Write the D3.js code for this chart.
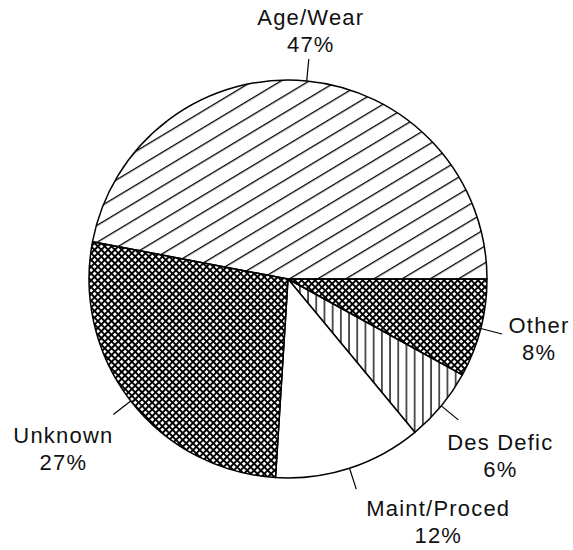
<!DOCTYPE html>
<html>
<head>
<meta charset="utf-8">
<script src="https://cdn.jsdelivr.net/npm/d3@7"></script>
<style>
  body { margin: 0; background: #fff; }
  text { font-family: "Liberation Sans", Arial, sans-serif; font-size: 22px; fill: #111; letter-spacing: 1.2px; }
</style>
</head>
<body>
<svg id="pie_svg" width="573" height="550"></svg>
<script>
// slices, clockwise starting from 3 o'clock
var causes = ["Other", "Des Defic", "Maint/Proced", "Unknown", "Age/Wear"];
var percents = [8, 6, 12, 27, 47];

// hatch used for each cause
var hatch = {"Other": "url(#cross)", "Des Defic": "url(#vert)", "Maint/Proced": "#fff",
             "Unknown": "url(#cross)", "Age/Wear": "url(#diag)"};
// label block position relative to the end of its leader line [dx, first baseline dy]
var labelShift = {"Other": [37, -1], "Des Defic": [42, 30], "Maint/Proced": [82, 27],
                  "Unknown": [-50, 29], "Age/Wear": [2, -34]};

const cx = 288, cy = 279, radius = 199, leaderOut = 221, lineGap = 27;

const svg = d3.select("#pie_svg");
const defs = svg.append("defs");

// wide diagonal lines
defs.append("pattern")
  .attr("id", "diag")
  .attr("patternUnits", "userSpaceOnUse")
  .attr("width", 40).attr("height", 14.5)
  .attr("patternTransform", "rotate(-31)")
  .append("rect")
  .attr("x", 0).attr("y", 0).attr("width", 40).attr("height", 1.3)
  .attr("fill", "#000");

// vertical lines
defs.append("pattern")
  .attr("id", "vert")
  .attr("patternUnits", "userSpaceOnUse")
  .attr("width", 8.2).attr("height", 20)
  .append("rect")
  .attr("x", 3).attr("y", 0).attr("width", 1.3).attr("height", 20)
  .attr("fill", "#000");

// diamond cross hatch
var cs = 4.8, cw = 1.9;
var cross = defs.append("pattern")
  .attr("id", "cross")
  .attr("patternUnits", "userSpaceOnUse")
  .attr("width", cs).attr("height", cs)
  .attr("patternTransform", "rotate(45)");
cross.append("rect").attr("width", cs).attr("height", cs).attr("fill", "#fff");
cross.append("rect").attr("x", 0).attr("y", 0).attr("width", cs).attr("height", cw).attr("fill", "#000");
cross.append("rect").attr("x", 0).attr("y", 0).attr("width", cw).attr("height", cs).attr("fill", "#000");

const g = svg.append("g").attr("transform", `translate(${cx},${cy})`);

const data = causes.map((c, i) => ({cause: c, value: percents[i]}));

const pie = d3.pie()
  .sort(null)
  .startAngle(Math.PI / 2)
  .endAngle(Math.PI / 2 + 2 * Math.PI)
  .value(d => d.value);

const data_ready = pie(data);

const arc = d3.arc().innerRadius(0).outerRadius(radius);
const rimArc = d3.arc().innerRadius(radius).outerRadius(radius);
const outArc = d3.arc().innerRadius(leaderOut).outerRadius(leaderOut);

g.selectAll("path.slice")
  .data(data_ready)
  .join("path")
  .attr("class", "slice")
  .attr("d", arc)
  .attr("fill", d => hatch[d.data.cause])
  .attr("stroke", "#000")
  .attr("stroke-width", 1.5)
  .attr("stroke-linejoin", "round");

// leader lines
g.selectAll("line.leader")
  .data(data_ready)
  .join("line")
  .attr("class", "leader")
  .attr("x1", d => rimArc.centroid(d)[0])
  .attr("y1", d => rimArc.centroid(d)[1])
  .attr("x2", d => outArc.centroid(d)[0])
  .attr("y2", d => outArc.centroid(d)[1])
  .attr("stroke", "#000")
  .attr("stroke-width", 1.2);

// labels
var labels = g.selectAll("text.lbl")
  .data(data_ready)
  .join("text")
  .attr("class", "lbl")
  .attr("text-anchor", "middle")
  .attr("transform", d => {
    const p = outArc.centroid(d), s = labelShift[d.data.cause];
    return `translate(${p[0] + s[0]},${p[1] + s[1]})`;
  });

labels.append("tspan").attr("x", 0).attr("y", 0).text(d => d.data.cause);
labels.append("tspan").attr("x", 0).attr("y", lineGap).text(d => d.data.value + "%");
</script>
</body>
</html>
